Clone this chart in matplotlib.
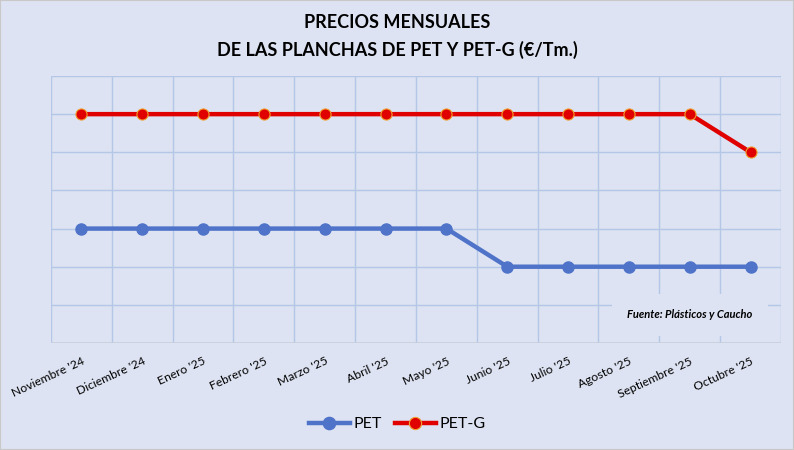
import numpy as np
import matplotlib.pyplot as plt

# Datos (valores estimados, el eje Y no muestra etiquetas)
meses = ["Noviembre '24", "Diciembre '24", "Enero '25", "Febrero '25", "Marzo '25",
         "Abril '25", "Mayo '25", "Junio '25", "Julio '25", "Agosto '25",
         "Septiembre '25", "Octubre '25"]
pet = [2600, 2600, 2600, 2600, 2600, 2600, 2600, 2400, 2400, 2400, 2400, 2400]
pet_g = [3200, 3200, 3200, 3200, 3200, 3200, 3200, 3200, 3200, 3200, 3200, 3000]

bg = '#dde3f2'
grid_col = '#b4c7e7'

plt.rcParams['font.family'] = ['Lato', 'DejaVu Sans']

fig = plt.figure(figsize=(7.94, 4.5), dpi=100, facecolor=bg)
ax = fig.add_axes([51/794, 1 - 343/450, 730/794, 267/450])
ax.set_facecolor(bg)

x = np.arange(len(meses))
ax.plot(x, pet, color='#4f73c9', lw=3.2, marker='o', ms=8,
        mfc='#4f73c9', mec='#4f73c9', label='PET', zorder=3)
ax.plot(x, pet_g, color='#e00000', lw=3.2, marker='o', ms=8,
        mfc='#e00000', mec='#f0a030', mew=0.8, label='PET-G', zorder=4)

ax.set_xlim(-0.5, len(meses) - 0.5)
ax.set_ylim(2000, 3400)
ax.set_yticks(np.arange(2000, 3401, 200))
ax.set_xticks(np.arange(-0.5, len(meses), 1), minor=False)
ax.set_xticklabels([])
ax.set_xticks(x, minor=True)
ax.set_xticklabels(meses, minor=True, rotation=25, ha='right',
                   rotation_mode='anchor', fontsize=8.7)
ax.tick_params(axis='x', which='both', length=0, pad=9)
ax.tick_params(axis='y', length=0, labelleft=False)
ax.grid(True, which='major', color=grid_col, lw=1)
for s in ax.spines.values():
    s.set_visible(False)
ax.axhline(2000, color='#c8cfdc', lw=1.2, zorder=2)

ax.text(0.875, 0.105, 'Fuente: Plásticos y Caucho', transform=ax.transAxes,
        ha='center', va='center', fontsize=8, fontweight='bold', style='italic',
        bbox=dict(facecolor=bg, edgecolor='none', pad=11), zorder=5)

fig.text(0.5, 1 - 22/450, 'PRECIOS MENSUALES', ha='center', va='center',
         fontsize=13, fontweight='bold')
fig.text(0.5, 1 - 50/450, 'DE LAS PLANCHAS DE PET Y PET-G (€/Tm.)', ha='center',
         va='center', fontsize=13, fontweight='bold')

fig.legend(loc='center', bbox_to_anchor=(0.5, 1 - 424/450), ncol=2, frameon=False,
           fontsize=11.5, handlelength=2.6, columnspacing=0.8, handletextpad=0.2,
           markerscale=1.1)

fig.patches.append(plt.Rectangle((0, 0), 1, 1, transform=fig.transFigure,
                                 fill=False, edgecolor='#c8c8c8', lw=1.5))

fig.savefig('out.png', dpi=100, facecolor=bg)
